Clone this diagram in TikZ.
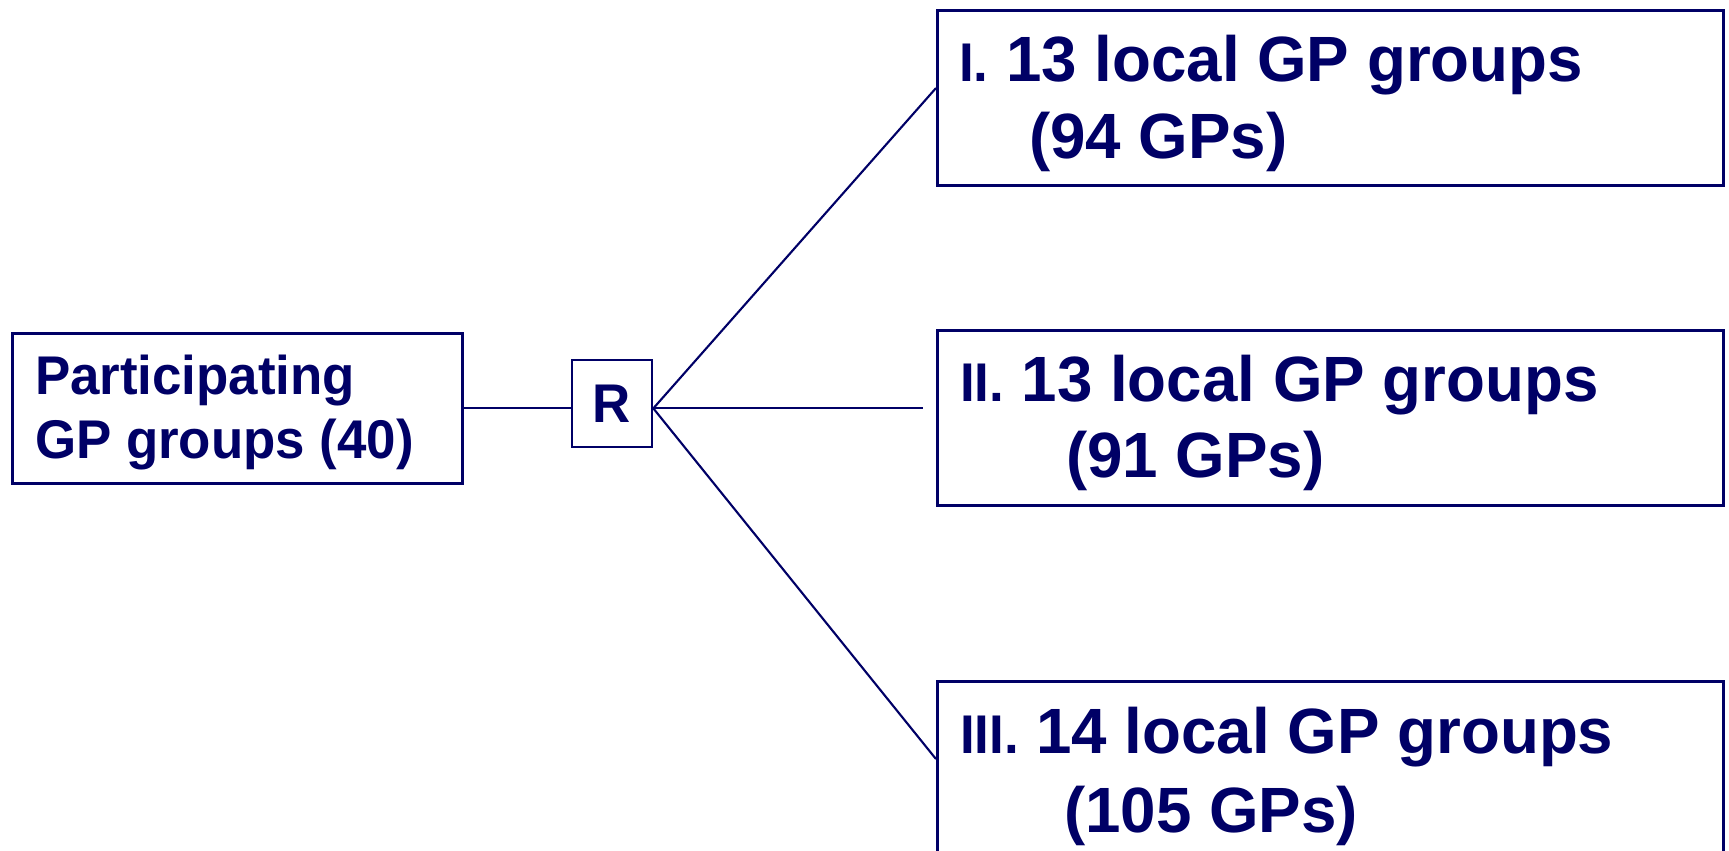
\documentclass[tikz,border=0pt]{standalone}
\usepackage{fontspec}
\setmainfont{Liberation Sans}[FakeStretch=0.97]
\newfontfamily\armfont{Liberation Sans}[FakeStretch=0.995]
\usepackage{tikz}
\usetikzlibrary{positioning}
\definecolor{navy}{RGB}{0,0,102}
\tikzstyle{grpbox}=[draw=navy,rectangle,inner sep=0pt,line width=0.75pt]
\tikzstyle{grptext}=[anchor=base west,inner sep=0pt,text=navy]
\tikzstyle{bigtext}=[grptext,font=\armfont\bfseries\fontsize{18.2}{18.2}\selectfont]
\tikzstyle{smalltext}=[grptext,font=\bfseries\fontsize{15.5}{15.5}\selectfont]
\newcommand{\rnum}[1]{{\normalfont\bfseries\fontsize{15.5}{15.5}\selectfont #1}}

\begin{document}
\begin{tikzpicture}[x=0.01cm,y=-0.01cm,line width=0.6pt,draw=navy]
    \useasboundingbox (0,0) rectangle (1729,851);
    \node [grpbox,anchor=north west,minimum width=4.5cm,minimum height=1.5cm] (start) at (11,332) {};
    \node [grpbox,minimum width=0.8cm,minimum height=0.87cm,text=navy,
      font=\bfseries\fontsize{15.5}{15.5}\selectfont] (rand) at (612,403.5) {R};
    \node [grpbox,anchor=north west,minimum width=7.86cm,minimum height=1.75cm] (arm1) at (936,9) {};
    \node [grpbox,anchor=north west,minimum width=7.86cm,minimum height=1.75cm] (arm2) at (936,329) {};
    \node [grpbox,anchor=north west,minimum width=7.86cm,minimum height=2.2cm] (arm3) at (936,680) {};

    \node [smalltext] (startA) at (34,394) {Participating};
    \node [smalltext] (startB) at (34,458) {GP groups (40)};

    \node [bigtext] (arm1A) at (958,81) {\rnum{I.} 13 local GP groups};
    \node [bigtext] (arm1B) at (1028,158) {(94 GPs)};
    \node [bigtext] (arm2A) at (959,401) {\rnum{II.} 13 local GP groups};
    \node [bigtext] (arm2B) at (1065,477) {(91 GPs)};
    \node [bigtext] (arm3A) at (959,753) {\rnum{III.} 14 local GP groups};
    \node [bigtext] (arm3B) at (1063,832) {(105 GPs)};

    \coordinate (fork) at (rand.east |- start.east);
    \coordinate (end1) at ([yshift=-0.79cm]arm1.north west);
    \coordinate (end2) at ([xshift=-0.13cm]fork -| arm2.west);
    \coordinate (end3) at ([yshift=-0.79cm]arm3.north west);

    \draw (start.east) -- (start.east -| rand.west);
    \draw (fork) -- (end1);
    \draw (fork) -- (end2);
    \draw (fork) -- (end3);
\end{tikzpicture}
\end{document}
